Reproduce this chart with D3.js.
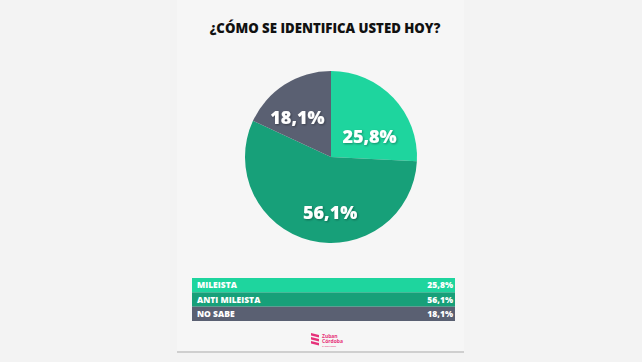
<!DOCTYPE html>
<html>
<head>
<meta charset="utf-8">
<script src="https://cdn.jsdelivr.net/npm/d3@7"></script>
<style>
  body { margin: 0; background: #f3f3f3; }
  svg { display: block; }
</style>
</head>
<body>
<div id="chart"></div>
<script>
// chart data
var categories = ["MILEISTA", "ANTI MILEISTA", "NO SABE"];
var values = [25.8, 56.1, 18.1];
var labels = ["25,8%", "56,1%", "18,1%"];
var colors = ["#1ed59e", "#17a079", "#5a6072"];

var svgWidth = 642;
var svgHeight = 362;

var svg = d3.select("#chart").append("svg")
    .attr("width", svgWidth)
    .attr("height", svgHeight);

// background + panel
svg.append("rect").attr("width", svgWidth).attr("height", svgHeight).attr("fill", "#f3f3f3");
svg.append("rect").attr("x", 177).attr("y", 0).attr("width", 287).attr("height", 352).attr("fill", "#f6f6f6");
svg.append("rect").attr("x", 177).attr("y", 351).attr("width", 287).attr("height", 2).attr("fill", "#cfcfcf");

var defs = svg.append("defs");
var shadow = defs.append("filter").attr("id", "shadow").attr("x", "-20%").attr("y", "-20%").attr("width", "140%").attr("height", "140%");
shadow.append("feDropShadow").attr("dx", 1).attr("dy", 1).attr("stdDeviation", 1).attr("flood-color", "#000").attr("flood-opacity", 0.35);

// title
svg.append("text")
    .attr("x", 325)
    .attr("y", 33)
    .attr("text-anchor", "middle")
    .attr("font-family", "Open Sans, sans-serif")
    .attr("font-weight", 800)
    .attr("font-size", 13.2)
    .attr("fill", "#111")
    .text("¿CÓMO SE IDENTIFICA USTED HOY?");

// pie
var radius = 86;
var pieGroup = svg.append("g").attr("transform", "translate(331,157)");

var pie = d3.pie().sort(null).value(d => d);
var arcs = pie(values);
var arc = d3.arc().innerRadius(0).outerRadius(radius);

pieGroup.selectAll("path")
    .data(arcs)
    .enter()
    .append("path")
    .attr("d", arc)
    .attr("fill", (d, i) => colors[i]);

// label placement: fraction of radius and angle nudge (degrees) from slice middle
var labelRadius = [0.51, 0.65, 0.60];
var labelNudge = [15, -13, -8];
pieGroup.selectAll("text.val")
    .data(arcs)
    .enter()
    .append("text")
    .attr("class", "val")
    .attr("transform", function(d, i) {
        var a = (d.startAngle + d.endAngle) / 2 + labelNudge[i] * Math.PI / 180;
        var r = radius * labelRadius[i];
        return `translate(${Math.sin(a) * r},${-Math.cos(a) * r})`;
    })
    .attr("text-anchor", "middle")
    .attr("dy", "0.36em")
    .attr("font-family", "Open Sans, sans-serif")
    .attr("font-weight", 800)
    .attr("font-size", 18)
    .attr("fill", "#fff")
    .attr("filter", "url(#shadow)")
    .text((d, i) => labels[i]);

// legend table
var y = d3.scaleBand().domain(categories).range([278, 321]).padding(0);
var tableX = 192, tableW = 263;

var rows = svg.append("g").selectAll("g")
    .data(categories)
    .enter()
    .append("g")
    .attr("transform", d => `translate(${tableX},${y(d)})`);

rows.append("rect")
    .attr("width", tableW)
    .attr("height", y.bandwidth())
    .attr("fill", (d, i) => colors[i]);

rows.append("text")
    .attr("x", 5)
    .attr("y", y.bandwidth() / 2)
    .attr("dy", "0.36em")
    .attr("font-family", "Open Sans, sans-serif")
    .attr("font-weight", 800)
    .attr("font-size", 8.5)
    .attr("fill", "#fff")
    .text(d => d);

rows.append("text")
    .attr("x", tableW - 2)
    .attr("y", y.bandwidth() / 2)
    .attr("dy", "0.36em")
    .attr("text-anchor", "end")
    .attr("font-family", "Open Sans, sans-serif")
    .attr("font-weight", 800)
    .attr("font-size", 8.5)
    .attr("fill", "#fff")
    .text((d, i) => labels[i]);

// logo
var logo = svg.append("g").attr("transform", "translate(311,333)");
[0, 4, 8].forEach(function(o) {
    logo.append("path")
        .attr("d", `M0,${o} L8,${o + 2} L8,${o + 4.5} L0,${o + 2.5} Z`)
        .attr("fill", "#e6317a");
});
logo.append("text").attr("x", 11).attr("y", 5).attr("font-family", "Open Sans, sans-serif")
    .attr("font-weight", 700).attr("font-size", 5).attr("fill", "#e6317a").text("Zuban");
logo.append("text").attr("x", 11).attr("y", 10).attr("font-family", "Open Sans, sans-serif")
    .attr("font-weight", 700).attr("font-size", 5).attr("fill", "#e6317a").text("Córdoba");
logo.append("text").attr("x", 11).attr("y", 13.5).attr("font-family", "Open Sans, sans-serif")
    .attr("font-size", 2.5).attr("fill", "#e6317a").text("& asociados");
</script>
</body>
</html>
